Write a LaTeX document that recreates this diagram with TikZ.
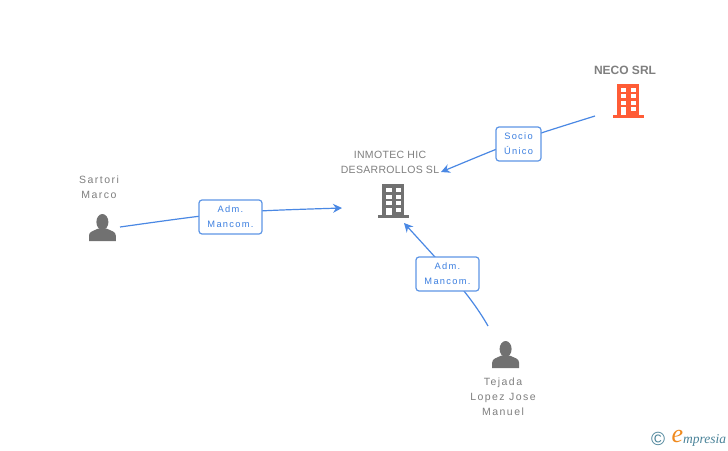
\documentclass[tikz,border=0pt]{standalone}
\usepackage{fontspec}
\setmainfont{Liberation Sans}
\newfontfamily\lblfont[LetterSpace=14]{Liberation Sans}
\newfontfamily\capsfont[LetterSpace=3]{Liberation Sans}
\newfontfamily\boxfont[LetterSpace=14]{Liberation Sans}
\newfontfamily\logofont{Liberation Serif}
\usetikzlibrary{arrows.meta}
\definecolor{txtgrey}{HTML}{7F7F7F}
\definecolor{icongrey}{HTML}{717171}
\definecolor{iconred}{HTML}{FF5C36}
\definecolor{linkblue}{HTML}{4A88E4}
\definecolor{boxblue}{HTML}{5E96E6}
\definecolor{labelblue}{HTML}{3C7FE0}
\definecolor{logoteal}{HTML}{4A8399}
\definecolor{logoorange}{HTML}{F08A1E}
\tikzset{
  x=1pt,y=-1pt,
  nametext/.style={align=center,text=txtgrey,inner sep=0pt,font=\fontsize{10.5}{15}\selectfont\lblfont},
  capstext/.style={align=center,text=txtgrey,inner sep=0pt,font=\fontsize{10.5}{15}\selectfont\capsfont},
  boldtext/.style={align=center,text=txtgrey,inner sep=0pt,font=\fontsize{12}{15}\selectfont\bfseries},
  linkbox/.style={draw=boxblue,line width=1.2pt,rounded corners=3pt,fill=white,
    align=center,text=labelblue,inner sep=0pt,font=\fontsize{9.3}{15}\selectfont\boxfont},
  link/.style={draw=linkblue,line width=1.2pt,-{Stealth[length=9pt,width=9pt,inset=3pt]}},
  pics/building/.style={code={
    \fill[#1] (-11,-16) rectangle (11,15);
    \fill[#1] (-15.5,15) rectangle (16,18);
    \foreach \yy in {-12,-5.5,1,7.5}{
      \fill[white] (2.6,\yy) rectangle (7.8,\yy+4);
    }
    \foreach \yy in {-12,-5.5,1}{
      \fill[white] (-7,\yy) rectangle (-1.8,\yy+4);
    }
    \fill[white] (-7,7.5) rectangle (-1.8,15);
  }},
  pics/person/.style={code={
    \fill[icongrey] (0,-5.5) ellipse (6 and 8);
    \fill[icongrey] (-13.4,13.5) -- (-13.4,8) .. controls (-13.4,4) and (-9,3.5) .. (-4,1) -- (4,1)
      .. controls (9,3.5) and (13.4,4) .. (13.4,8) -- (13.4,13.5) -- cycle;
  }}
}
\begin{document}
\begin{tikzpicture}
\useasboundingbox[fill=white] (0,0) rectangle (728,450);

% connector ends
\coordinate (sartoriOut) at (120,227);
\coordinate (inmotecW) at (342,208);
\coordinate (necoOut) at (595,116);
\coordinate (inmotecE) at (441,172);
\coordinate (tejadaOut) at (488,326);
\coordinate (inmotecS) at (404,223);
\coordinate (c1) at (230.5,211.5);
\coordinate (c2) at (518,140);
\coordinate (c3a) at (471,296);
\coordinate (c3b) at (446,269);

% connectors
\draw[link] (sartoriOut) .. controls (c1) .. (inmotecW);
\draw[link] (necoOut) .. controls (c2) .. (inmotecE);
\draw[link] (tejadaOut) .. controls (c3a) and (c3b) .. (inmotecS);

% connector labels
\node[linkbox,minimum width=63pt,minimum height=34pt] (admA) at (230.5,217) {Adm.\\Mancom.};
\node[linkbox,minimum width=45pt,minimum height=34pt] (socio) at (518.5,144) {Socio\\Único};
\node[linkbox,minimum width=63pt,minimum height=34pt] (admB) at (447.5,274) {Adm.\\Mancom.};

% icons
\pic at (393.3,200) {building=icongrey};
\pic at (628,99.5) {building=iconred};
\pic at (102.4,227.5) {person};
\pic at (505.6,354.5) {person};

% labels
\node[capstext] (inmotec) at (390,162.5) {INMOTEC HIC\\DESARROLLOS SL};
\node[boldtext] (neco) at (625,70) {NECO SRL};
\node[nametext] (sartori) at (99,187.5) {Sartori\\Marco};
\node[nametext] (tejada) at (503,397) {Tejada\\Lopez Jose\\Manuel};

% logo
\node[inner sep=0pt,text=logoteal,font=\fontsize{19}{19}\selectfont] (copyr) at (658,439) {©};
\node[inner sep=0pt,text=logoorange,font=\fontsize{26}{26}\selectfont\logofont\itshape] (logoe) at (677.5,436.5) {e};
\node[inner sep=0pt,text=logoteal,anchor=west,font=\fontsize{13.5}{13}\selectfont\logofont\itshape] (logot) at (683,440) {mpresia};
\end{tikzpicture}
\end{document}
